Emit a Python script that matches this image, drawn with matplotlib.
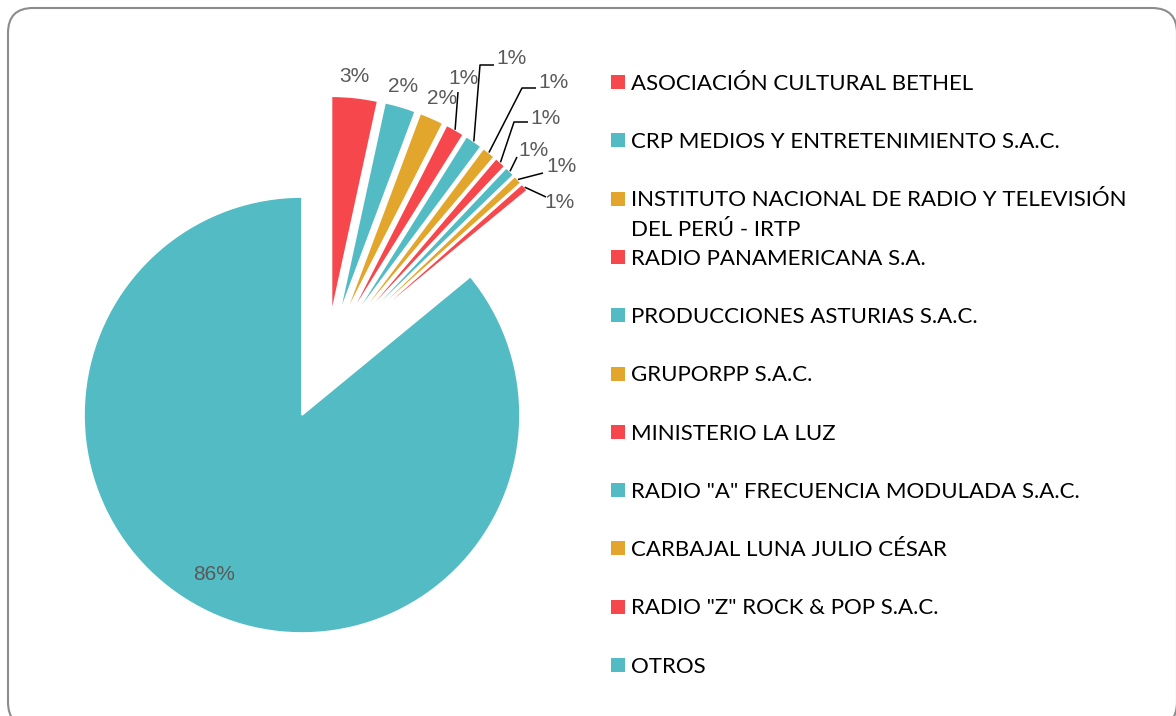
import matplotlib
matplotlib.use("Agg")
import matplotlib.pyplot as plt
from matplotlib.patches import FancyBboxPatch, Rectangle
import numpy as np

# participacion por entidad (%)
entidades = [
    "ASOCIACIÓN CULTURAL BETHEL",
    "CRP MEDIOS Y ENTRETENIMIENTO S.A.C.",
    "INSTITUTO NACIONAL DE RADIO Y TELEVISIÓN\nDEL PERÚ - IRTP",
    "RADIO PANAMERICANA S.A.",
    "PRODUCCIONES ASTURIAS S.A.C.",
    "GRUPORPP S.A.C.",
    "MINISTERIO LA LUZ",
    "RADIO \"A\" FRECUENCIA MODULADA S.A.C.",
    "CARBAJAL LUNA JULIO CÉSAR",
    "RADIO \"Z\" ROCK & POP S.A.C.",
    "OTROS",
]
porcentajes = [3.4, 2.3, 1.8, 1.4, 1.3, 1.0, 0.85, 0.75, 0.65, 0.6, 85.95]

ROJO, TURQUESA, AMBAR = "#F5474C", "#53BBC3", "#E3A62D"
colores = [ROJO, TURQUESA, AMBAR] * 3 + [ROJO, TURQUESA]

W, H = 1176, 716


def px(x, y):
    # coordenadas de pantalla -> datos
    return x, H - y


fig = plt.figure(figsize=(W / 100, H / 100), dpi=100)
ax = fig.add_axes([0, 0, 1, 1])

R = 218
borde = dict(edgecolor="white", linewidth=1.2)

# porcion grande (OTROS)
w_main, _ = ax.pie(porcentajes, colors=colores, startangle=90, counterclock=False,
                   radius=R, center=px(302, 415), wedgeprops=borde)
for w in w_main[:-1]:
    w.set_visible(False)

# porciones pequenas separadas
n_chicas = len(porcentajes) - 1
explode = [42] * n_chicas + [0]
w_sub, _ = ax.pie(porcentajes, colors=colores, explode=explode, startangle=90,
                  counterclock=False, radius=R, center=px(327, 356), wedgeprops=borde)
w_sub[-1].set_visible(False)

# etiquetas de porcentaje
pos_etiquetas = [(354, 77), (403, 86), (442, 99), (464, 79), (511, 58), (553, 83),
                 (545, 118), (533, 150), (562, 167), (560, 203), (214, 575)]
guias = {
    3: [(458, 92)],
    4: [(480, 65), (494, 65)],
    5: [(522, 88), (536, 88)],
    6: [(514, 122), (528, 122)],
    7: [(517, 157)],
    8: [(543, 173)],
    9: [(546, 197)],
}

for i, v in enumerate(porcentajes):
    ax.text(*px(*pos_etiquetas[i]), f"{v:.0f}%", ha="center", va="center",
            fontsize=15, color="#595959", family="Liberation Sans")
    if i in guias:
        w = w_sub[i]
        th = np.radians((w.theta1 + w.theta2) / 2)
        x0 = w.center[0] + w.r * np.cos(th)
        y0 = w.center[1] + w.r * np.sin(th)
        pts = [(x0, y0)] + [px(*p) for p in guias[i]]
        xs, ys = zip(*pts)
        ax.plot(xs, ys, color="black", lw=1.1, solid_capstyle="butt")

# leyenda
y_fila = 82
paso = 58.3
for i, nombre in enumerate(entidades):
    yc = y_fila + i * paso
    ax.add_patch(Rectangle(px(611, yc + 7), 14, 14, facecolor=colores[i], edgecolor="none"))
    for k, linea in enumerate(nombre.split("\n")):
        ax.text(*px(631, yc + 7.8 + k * 30), linea, ha="left", va="baseline",
                fontsize=16, color="black", family="Lato")

# marco redondeado
ax.add_patch(FancyBboxPatch(px(8, 727), 1169, 719, boxstyle="round,pad=0,rounding_size=25",
                            facecolor="none", edgecolor="#8c8c8c", lw=1.5, clip_on=False))

ax.set_xlim(0, W)
ax.set_ylim(0, H)
ax.set_axis_off()

fig.savefig("out.png", dpi=100)
